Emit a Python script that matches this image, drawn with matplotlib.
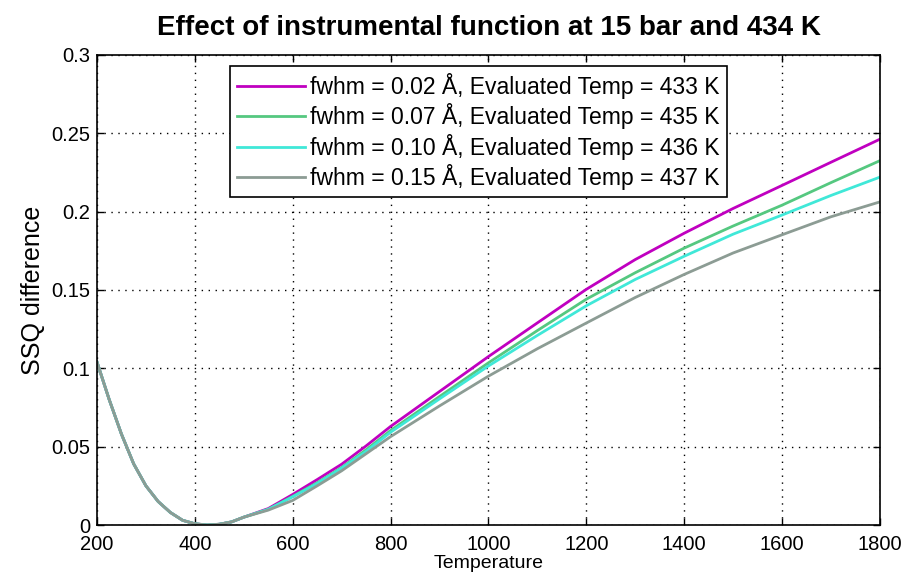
import matplotlib
matplotlib.use("Agg")
import matplotlib.pyplot as plt

plt.rcParams["font.family"] = ["Liberation Sans", "DejaVu Sans"]

# temperature grid (K)
temp = [200, 225, 250, 275, 300, 325, 350, 375, 400, 425, 450, 475, 500,
        550, 600, 650, 700, 750, 800, 900, 1000, 1100, 1200, 1300, 1400,
        1500, 1600, 1700, 1800]

# shared low-temperature part (all fwhm curves overlap here)
common = [0.104, 0.080, 0.058, 0.039, 0.025, 0.015, 0.008, 0.003, 0.0008,
          0.0, 0.0005, 0.002, 0.005]

ssq_002 = common + [0.0105, 0.0195, 0.029, 0.0388, 0.0505, 0.0629, 0.0852,
                    0.1075, 0.129, 0.1504, 0.1694, 0.1862, 0.202, 0.2167,
                    0.2315, 0.2462]
ssq_007 = common + [0.010, 0.0183, 0.027, 0.0367, 0.048, 0.0603, 0.082,
                    0.1035, 0.1241, 0.1441, 0.161, 0.1767, 0.1908, 0.2041,
                    0.2185, 0.2325]
ssq_010 = common + [0.010, 0.018, 0.0265, 0.0363, 0.047, 0.0592, 0.0805,
                    0.1015, 0.121, 0.1399, 0.1567, 0.1715, 0.1856, 0.1978,
                    0.2103, 0.222]
ssq_015 = common + [0.0095, 0.0157, 0.025, 0.0346, 0.0455, 0.0564, 0.076,
                    0.095, 0.1125, 0.1289, 0.1452, 0.1599, 0.1736, 0.1852,
                    0.1967, 0.2062]

labels = [
    "fwhm = 0.02 Å, Evaluated Temp = 433 K",
    "fwhm = 0.07 Å, Evaluated Temp = 435 K",
    "fwhm = 0.10 Å, Evaluated Temp = 436 K",
    "fwhm = 0.15 Å, Evaluated Temp = 437 K",
]
colors = ["#c000c0", "#55c880", "#40e8d8", "#8c9c94"]

fig = plt.figure(figsize=(9.09, 5.84), dpi=100)
ax = fig.add_axes([0.1067, 0.101, 0.8613, 0.805])

for ys, lab, col in zip([ssq_002, ssq_007, ssq_010, ssq_015], labels, colors):
    ax.plot(temp, ys, color=col, linewidth=2.0, label=lab)

ax.set_xlim(200, 1800)
ax.set_ylim(0, 0.3)
ax.set_xticks(range(200, 1801, 200))
ax.set_yticks([0, 0.05, 0.1, 0.15, 0.2, 0.25, 0.3])
ax.set_yticklabels(["0", "0.05", "0.1", "0.15", "0.2", "0.25", "0.3"])
ax.tick_params(direction="in", top=True, right=True, labelsize=14.5,
               length=5, width=1)
ax.tick_params(axis="x", pad=7)
ax.tick_params(axis="y", pad=5)
for sp in ax.spines.values():
    sp.set_linewidth(1.2)

ax.grid(True, linestyle=(0, (1, 4)), color="black", linewidth=1)

ax.set_title("Effect of instrumental function at 15 bar and 434 K",
             fontsize=20, fontweight="bold", pad=14)
ax.set_xlabel("Temperature", fontsize=14, labelpad=1)
ax.set_ylabel("SSQ difference", fontsize=18, labelpad=4)

leg = ax.legend(loc="upper left", bbox_to_anchor=(0.170, 0.977),
                fontsize=16.5, fancybox=False, framealpha=1,
                edgecolor="black", handlelength=2.95, handletextpad=0.25,
                labelspacing=0.2, borderpad=0.3, borderaxespad=0)
leg.get_frame().set_linewidth(1.2)

fig.savefig("out.png", dpi=100)
